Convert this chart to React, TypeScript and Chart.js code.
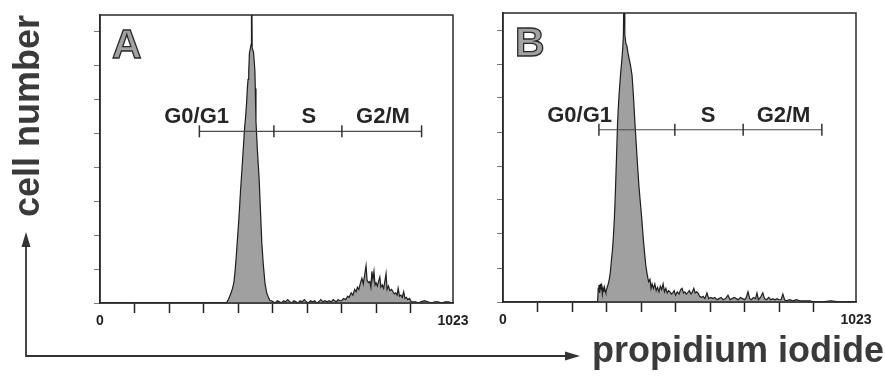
import React, { useEffect, useRef } from "react";
import { Chart, registerables } from "chart.js";

Chart.register(...registerables);

// ---------- data ----------
const channelsA = [
  0, 364, 368, 372, 376, 380, 384, 388, 392, 395,
  398, 401, 404, 407, 410, 413, 416, 419, 422, 425,
  427, 429, 431, 433, 436, 438, 439, 441, 445, 449,
  450, 452, 456, 461, 465, 469, 473, 478, 483, 488,
  493, 497, 502, 508, 514, 520, 526, 532, 538, 544,
  550, 556, 562, 568, 574, 580, 586, 592, 598, 604,
  610, 616, 622, 628, 634, 640, 646, 652, 658, 664,
  670, 676, 680, 685, 690, 695, 700, 706, 712, 718,
  722, 728, 733, 738, 742, 746, 750, 755, 759, 763,
  767, 771, 774, 778, 782, 785, 788, 791, 794, 797,
  800, 804, 808, 811, 814, 818, 822, 826, 829, 832,
  836, 840, 845, 849, 853, 857, 861, 864, 868, 872,
  876, 880, 884, 888, 892, 897, 902, 908, 915, 922,
  930, 940, 950, 960, 970, 980, 990, 1000, 1010, 1023,
];
const countsA = [
  0, 0, 1, 3, 6, 9, 13, 18, 30, 42,
  55, 68, 82, 98, 112, 126, 140, 155, 165, 178,
  190, 198, 205, 221, 226, 229, 330, 226, 222, 205,
  190, 161, 136, 111, 82, 53, 35, 18, 9, 5,
  2, 2, 1, 0, 2, 1, 0, 2, 1, 3,
  1, 0, 2, 1, 0, 2, 1, 3, 1, 0,
  2, 1, 2, 0, 1, 3, 1, 2, 1, 2,
  1, 3, 2, 1, 3, 2, 2, 4, 3, 6,
  5, 9, 7, 12, 10, 14, 12, 18, 22, 17,
  25, 33, 20, 18, 19, 14, 28, 21, 28, 16,
  18, 15, 20, 23, 14, 16, 13, 20, 26, 12,
  15, 11, 12, 10, 8, 9, 7, 13, 6, 7,
  5, 10, 4, 5, 3, 4, 1, 1, 1, 0,
  1, 2, 1, 0, 1, 1, 0, 1, 1, 0,
];

const channelsB = [
  0, 274, 276, 278, 280, 282, 284, 286, 288, 290,
  292, 294, 296, 298, 300, 302, 305, 308, 311, 314,
  317, 320, 323, 326, 329, 332, 335, 338, 341, 344,
  347, 349, 351, 353, 356, 359, 362, 366, 370, 374,
  378, 382, 386, 390, 394, 398, 402, 406, 410, 414,
  418, 422, 426, 429, 432, 436, 440, 444, 448, 452,
  456, 460, 464, 468, 472, 476, 480, 484, 488, 492,
  496, 500, 505, 510, 515, 519, 523, 527, 531, 535,
  540, 545, 549, 553, 557, 561, 565, 570, 575, 580,
  585, 591, 596, 602, 608, 614, 620, 626, 632, 638,
  645, 652, 658, 664, 670, 676, 682, 688, 694, 700,
  705, 710, 715, 720, 726, 732, 736, 740, 746, 753,
  758, 764, 770, 776, 782, 788, 794, 800, 806, 811,
  816, 822, 830, 840, 850, 860, 870, 880, 890, 900,
  920, 950, 980, 1023,
];
const countsB = [
  0, 0, 12, 15, 8, 16, 11, 14, 7, 12,
  9, 13, 10, 8, 11, 13, 16, 20, 26, 36,
  45, 58, 75, 100, 128, 158, 176, 190, 202, 212,
  224, 236, 300, 236, 228, 226, 220, 214, 208, 200,
  182, 160, 140, 120, 102, 88, 74, 58, 44, 32,
  24, 18, 20, 12, 16, 12, 16, 10, 13, 9,
  14, 11, 16, 9, 12, 8, 10, 9, 7, 8,
  10, 6, 9, 7, 11, 12, 8, 9, 7, 8,
  10, 7, 9, 12, 8, 9, 8, 5, 4, 5,
  3, 8, 3, 4, 3, 4, 2, 3, 4, 2,
  3, 6, 2, 3, 4, 3, 2, 4, 3, 2,
  4, 9, 3, 2, 4, 3, 8, 2, 4, 8,
  3, 2, 4, 2, 3, 2, 3, 2, 2, 7,
  2, 1, 2, 1, 2, 1, 1, 1, 1, 0,
  0, 1, 0, 0,
];

const gatesA = [288, 504, 701, 932];
const gatesB = [278, 498, 696, 924];
const gateLevel = 152;
const phaseLabels = ["G0/G1", "S", "G2/M"];
const phaseLabelPosA = [280, 605, 820];
const phaseLabelPosB = [222, 594, 813];

const xMin = 0;
const xMax = 1023;
const xTickValues = [0, 100, 200, 300, 400, 500, 600, 700, 800, 900, 1023];
const xTickLabels = ["0", "", "", "", "", "", "", "", "", "", "1023"];
const yMax = 255;
const yTickValues = [0, 30, 60, 90, 120, 150, 180, 210, 240];

const yTitle = "cell number";
const xTitle = "propidium iodide";

// ---------- chart config ----------
const FONT = '"Liberation Sans", Arial, Helvetica, sans-serif';

function panelPlugin(letter: string, labelPos: number[]) {
  return {
    id: "panelDecor" + letter,
    afterDatasetsDraw(chart: any) {
      const { ctx, chartArea: ca, scales } = chart;
      const x = scales.x;
      const y = scales.y;
      ctx.save();
      ctx.strokeStyle = "#2a2a2a";
      ctx.lineWidth = 1.5;
      ctx.strokeRect(ca.left, ca.top, ca.right - ca.left, ca.bottom - ca.top);
      ctx.font = `bold 41px ${FONT}`;
      ctx.textAlign = "left";
      ctx.textBaseline = "alphabetic";
      ctx.fillStyle = "#a2a2a2";
      ctx.fillText(letter, ca.left + 12, ca.top + 43);
      ctx.strokeStyle = "#2a2a2a";
      ctx.lineWidth = 1.3;
      ctx.strokeText(letter, ca.left + 12, ca.top + 43);
      ctx.font = `bold 22px ${FONT}`;
      ctx.fillStyle = "#262626";
      ctx.textAlign = "center";
      const yy = y.getPixelForValue(gateLevel) - 8;
      labelPos.forEach((p, i) => {
        ctx.fillText(phaseLabels[i], x.getPixelForValue(p), yy);
      });
      ctx.restore();
    },
  };
}

function makeConfig(
  channels: number[],
  counts: number[],
  gates: number[],
  labelPos: number[],
  letter: string,
  withTitle: boolean,
  padding: any,
  yWidth: number
) {
  const points = channels.map((c, i) => ({ x: c, y: counts[i] }));
  const gatePoints = gates.map((g) => ({ x: g, y: gateLevel }));
  return {
    type: "line",
    data: {
      datasets: [
        {
          label: "gates",
          data: gatePoints,
          order: 0,
          borderColor: "#4a4a4a",
          borderWidth: 1.2,
          fill: false,
          pointStyle: "line",
          rotation: 90,
          pointRadius: 6,
          pointBorderWidth: 1.5,
          pointBorderColor: "#333",
          pointBackgroundColor: "#333",
          tension: 0,
        },
        {
          label: "histogram",
          data: points,
          order: 1,
          borderColor: "#1e1e1e",
          borderWidth: 1.2,
          backgroundColor: "#a0a0a0",
          fill: "origin",
          pointRadius: 0,
          tension: 0,
        },
      ],
    },
    options: {
      animation: false,
      responsive: false,
      maintainAspectRatio: false,
      events: [],
      layout: { padding },
      plugins: {
        legend: { display: false },
        tooltip: { enabled: false },
      },
      scales: {
        x: {
          type: "linear",
          min: xMin,
          max: xMax,
          afterBuildTicks: (s: any) => {
            s.ticks = xTickValues.map((v) => ({ value: v }));
          },
          afterFit: (s: any) => {
            s.height = 30;
          },
          ticks: {
            autoSkip: false,
            maxRotation: 0,
            padding: 0,
            color: "#222",
            font: { family: FONT, size: 14, weight: "bold" },
            callback: (v: number, i: number) => xTickLabels[i] ?? "",
          },
          grid: {
            drawOnChartArea: false,
            drawTicks: true,
            tickLength: 10,
            tickWidth: 1.5,
            tickColor: (c: any) =>
              c.tick && (c.tick.value === xMin || c.tick.value === xMax) ? "rgba(0,0,0,0)" : "#222",
          },
          border: { display: true, color: "#2a2a2a", width: 1.5 },
        },
        y: {
          type: "linear",
          min: 0,
          max: yMax,
          afterBuildTicks: (s: any) => {
            s.ticks = yTickValues.map((v) => ({ value: v }));
          },
          afterFit: (s: any) => {
            s.width = yWidth;
          },
          ticks: { display: false },
          grid: {
            drawOnChartArea: false,
            drawTicks: true,
            tickLength: 6,
            tickWidth: 1,
            tickColor: "#777",
          },
          border: { display: true, color: "#2a2a2a", width: 1.5 },
          title: {
            display: withTitle,
            text: yTitle,
            align: "end",
            color: "#3a3a3a",
            font: { family: FONT, size: 36, weight: "bold", lineHeight: 1 },
            padding: { top: 0, bottom: 45 },
          },
        },
      },
    },
    plugins: [panelPlugin(letter, labelPos)],
  } as any;
}

function Panel(props: { left: number; width: number; height: number; make: () => any }) {
  const ref = useRef<HTMLCanvasElement>(null);
  useEffect(() => {
    if (!ref.current) return;
    const chart = new Chart(ref.current, props.make());
    return () => chart.destroy();
  }, []);
  return (
    <canvas
      ref={ref}
      width={props.width}
      height={props.height}
      style={{ position: "absolute", left: props.left, top: 0, width: props.width, height: props.height, display: "block" }}
    />
  );
}

export default function App() {
  return (
    <div
      style={{
        position: "fixed",
        left: 0,
        top: 0,
        width: 885,
        height: 376,
        background: "#ffffff",
        overflow: "hidden",
      }}
    >
      <svg width={885} height={376} style={{ position: "absolute", left: 0, top: 0 }}>
        <polyline points="26,246 26,356 566,356" fill="none" stroke="#333" strokeWidth={1.8} />
        <polygon points="26,232 21.5,247 30.5,247" fill="#333" />
        <polygon points="580,356 565,351.5 565,360.5" fill="#333" />
      </svg>
      <Panel
        left={0}
        width={475}
        height={340}
        make={() =>
          makeConfig(channelsA, countsA, gatesA, phaseLabelPosA, "A", true, { left: 11, top: 15, right: 22, bottom: 7 }, 89)
        }
      />
      <Panel
        left={475}
        width={410}
        height={340}
        make={() =>
          makeConfig(channelsB, countsB, gatesB, phaseLabelPosB, "B", false, { left: 18, top: 13, right: 29, bottom: 8 }, 10)
        }
      />
      <div
        style={{
          position: "absolute",
          left: 592,
          top: 332,
          font: `bold 36px ${FONT}`,
          lineHeight: "36px",
          color: "#3a3a3a",
          whiteSpace: "nowrap",
        }}
      >
        {xTitle}
      </div>
    </div>
  );
}
